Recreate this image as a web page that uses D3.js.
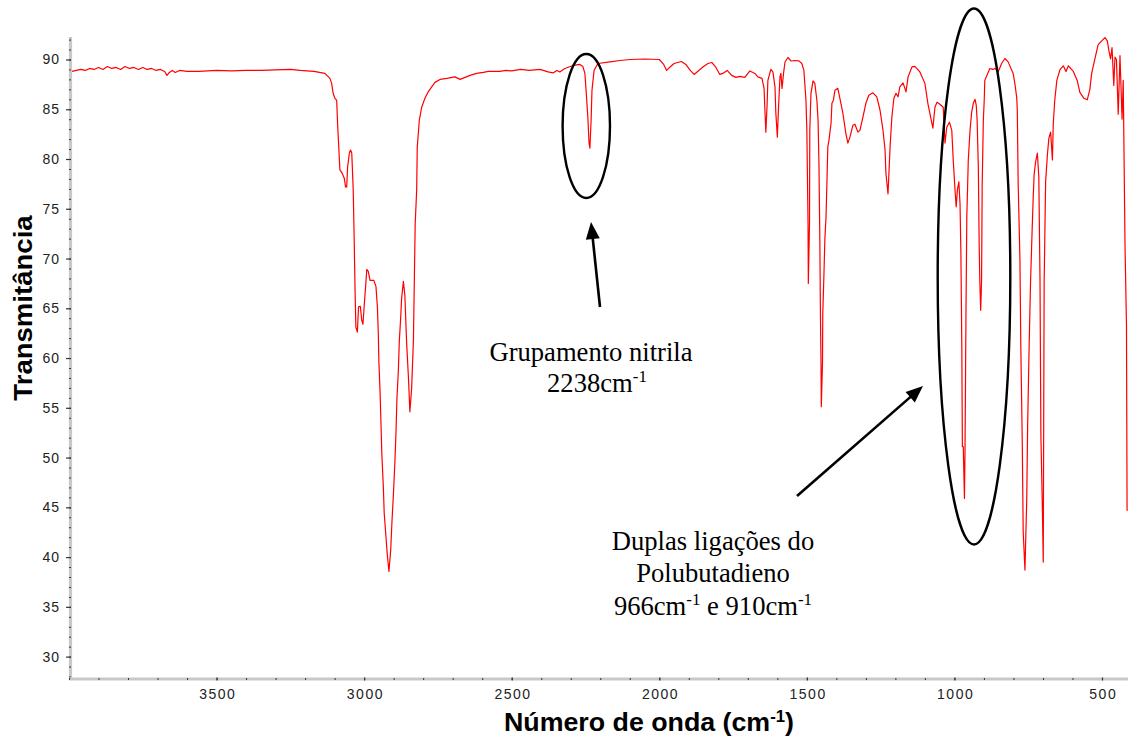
<!DOCTYPE html>
<html>
<head>
<meta charset="utf-8">
<script src="https://cdn.jsdelivr.net/npm/d3@7"></script>
<style>
  body { margin: 0; background: #fff; }
  svg { display: block; }
</style>
</head>
<body>
<svg id="chart" width="1128" height="740"></svg>
<script>
// FTIR spectrum, [wavenumber cm-1, transmittance %]
const spectrumHigh = [
  [4000,88.9],[3990,88.8],[3975,88.9],[3960,89.0],[3945,88.9],[3930,89.1],[3915,89.0],[3900,89.2],
  [3885,89.0],[3870,89.3],[3855,89.1],[3840,89.2],[3825,89.0],[3810,89.3],[3795,89.1],[3780,89.2],
  [3765,89.0],[3750,89.2],[3735,89.0],[3720,89.1],[3705,88.9],[3690,89.0],[3676,88.8],[3668,88.4],
  [3660,88.7],[3650,88.9],[3640,88.7],[3625,88.9],[3600,88.8],[3560,88.8],[3500,88.9],[3450,88.85],
  [3400,88.9],[3350,88.9],[3300,88.95],[3250,89.0],[3217,88.9],[3170,88.8],[3133,88.6],[3116,88.1],
  [3110,87.6],[3105,86.6],[3099,86.1],[3093,85.9],[3090,83.6],[3085,80.6],[3082,78.9],[3074,78.55],
  [3067,78.05],[3063,77.2],[3059,77.2],[3056,79.2],[3050,80.6],[3046,80.9],[3042,80.6],[3040,79.2],
  [3037,76.9],[3034,72.4],[3031,67.2],[3028,63.1],[3023,62.6],[3019,65.15],[3013,65.2],[3008,63.8],
  [3004,63.4],[3000,65.15],[2995,67.2],[2991,68.9],[2986,68.7],[2980,67.8],[2967,67.8],[2960,67.2],
  [2955,65.1],[2952,62.5],[2950,59.6],[2946,56.6],[2943,53.5],[2940,50.3],[2935,47.1],[2932,44.4],
  [2926,42.05],[2922,40.4],[2916,38.55],[2910,40.7],[2906,43.4],[2901,46.2],[2896,49.4],[2892,52.6],
  [2889,55.8],[2884,58.8],[2881,61.6],[2876,64.15],[2873,66.0],[2867,67.7],[2862,66.3],[2856,61.5],
  [2850,58.1],[2845,54.6],[2839,57.0],[2833,61.8],[2830,67.7],[2827,73.5],[2822,76.9],[2820,81.2],
  [2813,83.9],[2805,85.2],[2794,86.1],[2783,86.75],[2771,87.25],[2760,87.7],[2743,88.0],[2720,88.1],
  [2692,88.25],[2675,88.0],[2658,88.2],[2641,88.4],[2619,88.6],[2596,88.7],[2579,88.8],[2540,88.8],
  [2520,88.9],[2500,88.85],[2470,89.0],[2440,88.9],[2404,89.0],[2377,88.75],[2360,88.65],[2347,88.9],
  [2337,88.75],[2320,89.1],[2292,89.4],[2269,89.5],[2259,89.3],[2252,88.6],[2248,86.9],[2242,84.2],
  [2238,81.6],[2235,81.1],[2231,83.9],[2228,86.9],[2221,88.9],[2208,89.6],[2167,89.76],[2133,89.9],
  [2099,90.0],[2050,90.05],[2000,90.0]
];

const spectrumLow = [
  [1985,89.5],[1975,88.9],[1965,89.2],[1950,89.6],[1925,89.8],[1910,89.5],[1895,88.9],[1882,88.5],
  [1870,88.8],[1850,89.3],[1835,89.6],[1822,89.7],[1808,89.2],[1795,88.5],[1785,88.6],[1770,88.9],
  [1755,88.4],[1740,88.2],[1727,88.3],[1710,88.2],[1693,88.85],[1676,88.6],[1666,88.25],[1652,88.1],
  [1645,87.1],[1642,84.9],[1639,82.7],[1635,85.2],[1632,87.9],[1622,89.0],[1615,88.75],[1608,87.25],
  [1605,84.6],[1600,82.2],[1596,85.2],[1591,88.25],[1588,88.6],[1584,87.1],[1579,88.6],[1574,89.75],
  [1564,90.2],[1554,89.85],[1540,89.9],[1527,89.86],[1517,89.6],[1510,88.9],[1503,85.9],[1500,82.9],
  [1496,73.6],[1495,67.5],[1491,73.6],[1490,82.9],[1486,86.6],[1479,87.85],[1473,87.6],[1466,85.9],
  [1462,83.9],[1459,79.6],[1456,71.9],[1454,64.5],[1452,59.5],[1451,55.1],[1447,59.5],[1446,64.5],
  [1442,68.5],[1439,71.9],[1435,74.2],[1432,77.6],[1429,81.2],[1425,81.9],[1418,83.6],[1415,85.6],
  [1410,85.9],[1405,86.9],[1395,87.1],[1388,86.1],[1378,84.6],[1368,82.6],[1361,81.6],[1354,82.2],
  [1344,83.4],[1337,83.5],[1327,82.7],[1320,82.9],[1310,84.2],[1300,85.6],[1290,86.4],[1276,86.65],
  [1263,86.25],[1252,84.9],[1242,82.9],[1235,80.9],[1232,78.55],[1225,76.5],[1222,78.5],[1218,81.2],
  [1212,84.2],[1205,86.1],[1198,86.6],[1191,86.25],[1185,87.25],[1174,87.65],[1164,86.75],[1157,88.25],
  [1144,89.25],[1134,89.3],[1117,88.75],[1100,87.6],[1090,85.6],[1073,83.1],[1066,85.2],[1059,85.7],
  [1049,85.5],[1038,85.2],[1032,81.6],[1026,83.2],[1017,83.7],[1009,82.9],[1004,79.9],[998,76.9],
  [994,75.2],[990,76.9],[985,77.7],[981,75.5],[978,70.5],[975,61.3],[973,51.1],[970,51.1],
  [966,45.9],[964,51.1],[961,63.8],[958,74.2],[953,79.9],[947,82.9],[942,84.6],[936,85.6],
  [930,86.0],[926,85.4],[923,83.9],[919,79.2],[916,71.2],[914,67.8],[911,64.8],[908,67.8],
  [906,77.2],[902,83.9],[899,85.9],[897,87.9],[880,89.1],[870,89.0],[863,89.1],[852,88.75],
  [840,89.6],[829,90.1],[818,89.76],[801,88.6],[795,87.55],[789,86.2],[787,85.0],[784,77.6],
  [778,69.85],[775,61.1],[770,51.3],[767,42.55],[761,38.7],[755,45.7],[752,53.0],[747,61.0],
  [742,67.7],[737,72.55],[733,76.2],[730,78.4],[725,79.7],[719,80.6],[714,78.2],[710,67.8],
  [707,52.3],[702,44.9],[699,39.5],[696,67.5],[691,77.7],[685,80.4],[680,82.1],[674,82.7],
  [668,79.9],[665,83.6],[660,85.9],[653,87.9],[642,89.0],[631,89.36],[622,88.8],[614,89.36],
  [597,88.8],[584,87.9],[575,86.7],[561,86.1],[550,85.95],[541,87.0],[535,88.6],[524,90.07],
  [513,91.5],[501,91.87],[490,92.2],[482,91.87],[476,90.8],[471,90.07],[466,91.2],[460,87.4],
  [456,90.25],[451,90.0],[445,84.5],[439,90.4],[432,84.0],[428,87.9],[422,71.45],[417,63.2],
  [415,44.7],[413,44.7]
];

const xTickValues = [3500, 3000, 2500, 2000, 1500, 1000, 500];
const yTickValues = [30, 35, 40, 45, 50, 55, 60, 65, 70, 75, 80, 85, 90];
const xMinorValues = d3.range(4000, 399, -100);
const yMinorValues = d3.range(28, 93, 1);

const xTitle = "Número de onda (cm";
const yTitle = "Transmitância";

const svg = d3.select("#chart");
const W = 1128, H = 740;
const plotLeft = 69, plotRight = 1131.5, plotBottom = 679, plotTop = 36.6;

const x = d3.scaleLinear().domain([4000, 400]).range([plotLeft, plotRight]);
const y = d3.scaleLinear().domain([27.75, 92.3]).range([plotBottom, plotTop]);

svg.append("rect").attr("width", W).attr("height", H).attr("fill", "#fff");

svg.append("defs").append("clipPath").attr("id", "plotClip")
  .append("rect").attr("x", plotLeft).attr("y", 0).attr("width", W - plotLeft).attr("height", plotBottom - 1);

// spectrum trace
const spectrum = spectrumHigh.concat(spectrumLow);
const line = d3.line().x(d => x(d[0])).y(d => y(d[1]));
svg.append("path")
  .datum(spectrum)
  .attr("clip-path", "url(#plotClip)")
  .attr("fill", "none")
  .attr("stroke", "#ff0000")
  .attr("stroke-width", 1.2)
  .attr("stroke-linejoin", "round")
  .attr("d", line);

// axes
const axisColor = "#c8c8c8";
const tickColor = "#333";
const sans = "Liberation Sans, Arial, sans-serif";

const yMinor = svg.append("g").attr("transform", `translate(${plotLeft + 1},0)`)
  .call(d3.axisLeft(y).tickValues(yMinorValues).tickSize(2).tickSizeOuter(0).tickFormat(""));
yMinor.select(".domain").attr("stroke", axisColor).attr("stroke-width", 3.2);
yMinor.selectAll(".tick line").attr("stroke", tickColor).attr("stroke-width", 1).attr("x1", 1).attr("x2", -1);

const yMajor = svg.append("g").attr("transform", `translate(${plotLeft + 1},0)`)
  .call(d3.axisLeft(y).tickValues(yTickValues).tickFormat(d3.format("d")).tickSize(4).tickSizeOuter(0).tickPadding(6));
yMajor.select(".domain").remove();
yMajor.selectAll(".tick line").attr("stroke", tickColor).attr("stroke-width", 1.2).attr("x2", -4).attr("x1", 1);
yMajor.selectAll(".tick text")
  .attr("font-family", sans)
  .attr("font-size", 14).attr("fill", "#222").attr("letter-spacing", 1);

const xMinor = svg.append("g").attr("transform", `translate(0,${plotBottom})`)
  .call(d3.axisBottom(x).tickValues(xMinorValues).tickSize(2).tickSizeOuter(0).tickFormat(""));
xMinor.select(".domain").attr("stroke", axisColor).attr("stroke-width", 3.2)
  .attr("d", `M${plotLeft},0H${W}`);
xMinor.selectAll(".tick line").attr("stroke", tickColor).attr("stroke-width", 1).attr("y1", -1).attr("y2", 1);

const xMajor = svg.append("g").attr("transform", `translate(0,${plotBottom})`)
  .call(d3.axisBottom(x).tickValues(xTickValues).tickFormat(d3.format("d")).tickSize(3).tickSizeOuter(0).tickPadding(7));
xMajor.select(".domain").remove();
xMajor.selectAll(".tick line").attr("stroke", tickColor).attr("stroke-width", 1.2).attr("y1", -1.5).attr("y2", 1.5);
xMajor.selectAll(".tick text")
  .attr("font-family", sans)
  .attr("font-size", 14).attr("fill", "#222").attr("letter-spacing", 1.5).attr("dx", 0.75);

// axis titles
const xt = svg.append("text")
  .attr("transform", "translate(649,731) scale(1.05,1)")
  .attr("text-anchor", "middle")
  .attr("font-family", sans)
  .attr("font-weight", "bold").attr("font-size", 25.5).attr("fill", "#000");
xt.append("tspan").text(xTitle);
xt.append("tspan").attr("dy", -9).attr("font-size", 16).text("-1");
xt.append("tspan").attr("dy", 9).text(")");

svg.append("text")
  .attr("transform", "translate(32,308) rotate(-90) scale(1.06,1)")
  .attr("text-anchor", "middle")
  .attr("font-family", sans)
  .attr("font-weight", "bold").attr("font-size", 26).attr("fill", "#000")
  .text(yTitle);

// annotations
const nitrileLabel = ["Grupamento nitrila", "2238"];
const dieneLabel = ["Duplas ligações do", "Polubutadieno", "966", "910"];
const serif = "Liberation Serif, Times New Roman, serif";

function addText(tx, ty, parts) {
  const t = svg.append("text").attr("x", tx).attr("y", ty)
    .attr("text-anchor", "middle").attr("font-family", serif)
    .attr("font-size", 26.6).attr("fill", "#000");
  parts.forEach(p => {
    const s = t.append("tspan").text(p.t);
    if (p.sup) s.attr("dy", -10).attr("font-size", 17);
    if (p.down) s.attr("dy", 10);
  });
  return t;
}

addText(591, 361, [{t: nitrileLabel[0]}]);
addText(597, 392, [{t: nitrileLabel[1] + "cm"}, {t: "-1", sup: true}]);
addText(713, 550, [{t: dieneLabel[0]}]);
addText(713, 582, [{t: dieneLabel[1]}]);
addText(713, 615, [{t: dieneLabel[2] + "cm"}, {t: "-1", sup: true}, {t: " e " + dieneLabel[3] + "cm", down: true}, {t: "-1", sup: true}]);

// highlighting ellipses around the bands
svg.append("ellipse").attr("cx", 586.3).attr("cy", 126).attr("rx", 23.7).attr("ry", 72)
  .attr("fill", "none").attr("stroke", "#000").attr("stroke-width", 2.4);
svg.append("ellipse").attr("cx", 974).attr("cy", 276.5).attr("rx", 36.3).attr("ry", 268)
  .attr("fill", "none").attr("stroke", "#000").attr("stroke-width", 2.4);

// arrows
function arrow(x1, y1, x2, y2) {
  const dx = x2 - x1, dy = y2 - y1, len = Math.hypot(dx, dy);
  const ux = dx / len, uy = dy / len, headL = 17, headW = 7;
  const bx = x2 - ux * headL, by = y2 - uy * headL;
  svg.append("line").attr("x1", x1).attr("y1", y1).attr("x2", bx + ux * 2).attr("y2", by + uy * 2)
    .attr("stroke", "#000").attr("stroke-width", 2.6);
  svg.append("polygon")
    .attr("points", [[x2, y2], [bx - uy * headW, by + ux * headW], [bx + uy * headW, by - ux * headW]].map(p => p.join(",")).join(" "))
    .attr("fill", "#000");
}
arrow(600, 307, 591, 222);
arrow(797, 496, 923, 386);
</script>
</body>
</html>
